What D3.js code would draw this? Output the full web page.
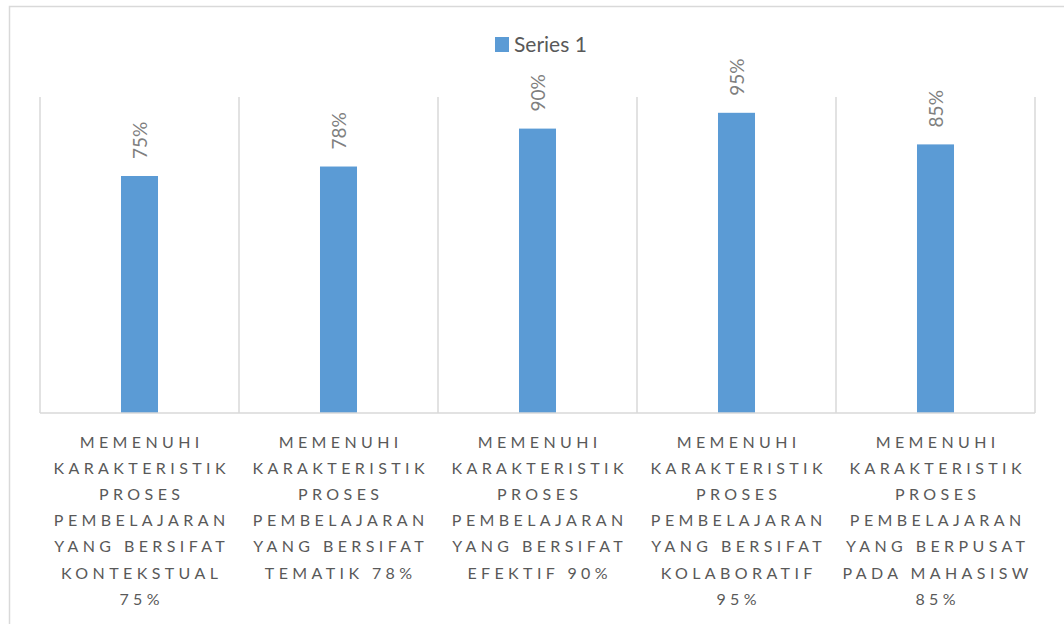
<!DOCTYPE html>
<html>
<head>
<meta charset="utf-8">
<script src="https://cdn.jsdelivr.net/npm/d3@7"></script>
<style>
  body { margin: 0; background: #fff; }
  svg { display: block; font-family: Lato, "Noto Sans", sans-serif; }
</style>
</head>
<body>
<div id="chart"></div>
<script>
var categories = [
  "MEMENUHI KARAKTERISTIK PROSES PEMBELAJARAN YANG BERSIFAT KONTEKSTUAL 75%",
  "MEMENUHI KARAKTERISTIK PROSES PEMBELAJARAN YANG BERSIFAT TEMATIK 78%",
  "MEMENUHI KARAKTERISTIK PROSES PEMBELAJARAN YANG BERSIFAT EFEKTIF 90%",
  "MEMENUHI KARAKTERISTIK PROSES PEMBELAJARAN YANG BERSIFAT KOLABORATIF 95%",
  "MEMENUHI KARAKTERISTIK PROSES PEMBELAJARAN YANG BERPUSAT PADA MAHASISW 85%"
];
// line breaks as shown under each bar
var tickLabels = [
  ["MEMENUHI", "KARAKTERISTIK", "PROSES", "PEMBELAJARAN", "YANG BERSIFAT", "KONTEKSTUAL", "75%"],
  ["MEMENUHI", "KARAKTERISTIK", "PROSES", "PEMBELAJARAN", "YANG BERSIFAT", "TEMATIK 78%"],
  ["MEMENUHI", "KARAKTERISTIK", "PROSES", "PEMBELAJARAN", "YANG BERSIFAT", "EFEKTIF 90%"],
  ["MEMENUHI", "KARAKTERISTIK", "PROSES", "PEMBELAJARAN", "YANG BERSIFAT", "KOLABORATIF", "95%"],
  ["MEMENUHI", "KARAKTERISTIK", "PROSES", "PEMBELAJARAN", "YANG BERPUSAT", "PADA MAHASISW", "85%"]
];
var seriesName = "Series 1";
var values = [0.75, 0.78, 0.90, 0.95, 0.85];

var width = 1064, height = 624;
var margin = { top: 97, right: 29, bottom: 211, left: 40 };
var w = width - margin.left - margin.right,
    h = height - margin.top - margin.bottom;

var svg = d3.select("#chart").append("svg")
    .attr("width", width)
    .attr("height", height);

// chart area border (runs off the right/bottom edge)
svg.append("rect")
   .attr("x", 9.5)
   .attr("y", 6.5)
   .attr("width", width + 20)
   .attr("height", height + 20)
   .attr("fill", "none")
   .attr("stroke", "#d9d9d9")
   .attr("stroke-width", 1.5);

var g = svg.append("g")
   .attr("transform", "translate(" + margin.left + "," + margin.top + ")");

var x = d3.scaleBand()
   .domain(categories)
   .range([0, w])
   .padding(0);

var y = d3.scaleLinear()
   .domain([0, 1])
   .range([h, 0]);

var barW = x.bandwidth() * 0.186;

// vertical gridlines at category boundaries
var edges = categories.map(function(d) { return x(d); }).concat([w]);
g.selectAll(".grid")
   .data(edges)
   .enter()
   .append("line")
   .attr("class", "grid")
   .attr("x1", function(d) { return d; })
   .attr("x2", function(d) { return d; })
   .attr("y1", 0)
   .attr("y2", h)
   .attr("stroke", "#d9d9d9")
   .attr("stroke-width", 1.5);

g.selectAll(".bars")
   .data(values)
   .enter()
   .append("rect")
   .attr("class", "bars")
   .attr("fill", "#5b9bd5")
   .attr("x", function(d, i) { return x(categories[i]) + (x.bandwidth() - barW) / 2; })
   .attr("y", function(d) { return y(d); })
   .attr("width", barW)
   .attr("height", function(d) { return h - y(d); });

// baseline
g.append("line")
   .attr("x1", 0)
   .attr("x2", w)
   .attr("y1", h)
   .attr("y2", h)
   .attr("stroke", "#d9d9d9")
   .attr("stroke-width", 1.5);

// rotated value labels
g.selectAll(".val")
   .data(values)
   .enter()
   .append("text")
   .attr("class", "val")
   .attr("transform", function(d, i) {
     var cx = x(categories[i]) + x.bandwidth() / 2;
     return "translate(" + cx + "," + (y(d) - 17) + ")rotate(-90)";
   })
   .attr("dominant-baseline", "central")
   .attr("fill", "#7f7f7f")
   .attr("font-size", 19)
   .text(function(d) { return d3.format(".0%")(d); });

// category labels
var ls = 4.4;
var lab = g.selectAll(".cat")
   .data(tickLabels)
   .enter()
   .append("text")
   .attr("class", "cat")
   .attr("text-anchor", "middle")
   .attr("fill", "#595959")
   .attr("font-size", 16)
   .attr("letter-spacing", ls)
   .attr("transform", function(d, i) {
     return "translate(" + (x(categories[i]) + x.bandwidth() / 2 + ls / 2) + "," + (h + 34.5) + ")";
   });
lab.selectAll("tspan")
   .data(function(d) { return d; })
   .enter()
   .append("tspan")
   .attr("x", 0)
   .attr("y", function(d, i) { return i * 26.2; })
   .text(function(d) { return d; });

// legend
var leg = svg.append("g")
   .attr("transform", "translate(495,37)");
leg.append("rect")
   .attr("width", 14)
   .attr("height", 15)
   .attr("fill", "#5b9bd5");
leg.append("text")
   .attr("x", 19)
   .attr("y", 15)
   .attr("fill", "#595959")
   .attr("font-size", 21)
   .text(seriesName);
</script>
</body>
</html>
